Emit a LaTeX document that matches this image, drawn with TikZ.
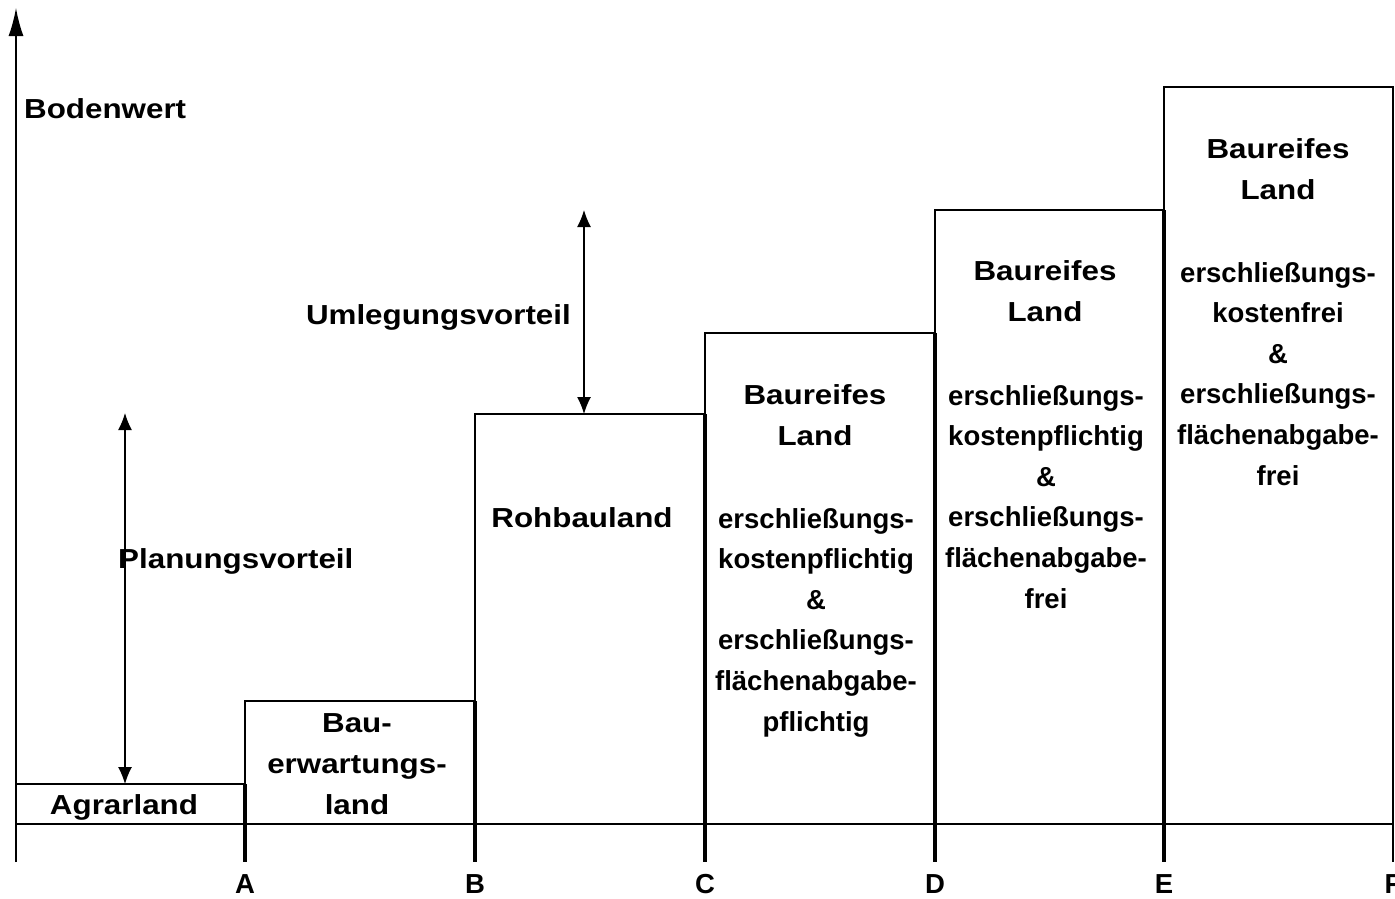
\documentclass[tikz,border=0pt]{standalone}
\usepackage{fontspec}
\setmainfont{Liberation Sans}
\newfontfamily\titelfont[FakeStretch=1.14]{Liberation Sans}
\usepackage{tikz}
\usetikzlibrary{arrows.meta}
\tikzset{	x=1pt, y=-1pt,
	stufe/.style={
		draw,
		line width=2pt},
	grenze/.style={
		line width=4.5pt},
	titel/.style={
		font=\titelfont\bfseries\fontsize{27.5}{41}\selectfont,
		anchor=base,
		inner sep=0pt},
	klein/.style={
		font=\bfseries\fontsize{27.5}{41}\selectfont,
		anchor=base,
		inner sep=0pt},
	pfeil/.style={
		{Latex[length=17pt,width=14pt]}-{Latex[length=17pt,width=14pt]},
		line width=1.3pt}
}

\begin{document}
\begin{tikzpicture}
	\useasboundingbox (0,0) rectangle (1395,898);
	% Achsen
	\coordinate (O) at (16,862);
	\coordinate (Y) at (16,8);
	\draw[line width=1.6pt, -{Latex[length=28pt,width=15pt]}] (O) -- (Y);
	\draw[line width=2pt] (16,824) -- (1393,824);
	\node[titel, anchor=base west] (bw) at (24,118) {Bodenwert};
	% Stufen
	\foreach \xa/\xb/\h [count=\i] in {16/245/784, 245/475/701, 475/705/414, 705/935/333, 935/1164/210, 1164/1393/87}
		\draw[stufe] (\xa,824) rectangle (\xb,\h) coordinate (s\i);
	\foreach \xb/\h/\n in {245/784/A, 475/701/B, 705/414/C, 935/333/D, 1164/210/E}{
		\draw[grenze] (\xb,\h) -- (\xb,862);
		\node[klein] (l\n) at (\xb,893) {\n};
	}
	\draw[line width=2.5pt] (1393,87) -- (1393,862);
	\node[klein] (lF) at (1393,893) {F};
	% Vorteile
	\coordinate (pv1) at (125,413);
	\coordinate (pv2) at (125,784);
	\coordinate (uv1) at (584,210);
	\coordinate (uv2) at (584,414);
	\draw[pfeil] (pv1) -- (pv2);
	\draw[pfeil] (uv1) -- (uv2);
	\node[titel, anchor=base west] (pv) at (118,568) {Planungsvorteil};
	\node[titel, anchor=base east] (uv) at (571,324) {Umlegungsvorteil};
	% Beschriftung
	\node[titel] (agrar) at (124,814) {Agrarland};
	\node[titel] (bau1) at (357,732) {Bau-};
	\node[titel] (bau2) at (357,773) {erwartungs-};
	\node[titel] (bau3) at (357,814) {land};
	\node[titel] (roh) at (582,527) {Rohbauland};
	\foreach \xm/\yt/\k in {815/404/C, 1045/280/D, 1278/158/E}{
		\node[titel] (br\k) at (\xm,\yt) {Baureifes};
		\node[titel] (la\k) at (\xm,\yt+41) {Land};
	}
	\foreach \z [count=\i] in {erschließungs-, kostenpflichtig, \&, erschließungs-, flächenabgabe-, pflichtig}
		\node[klein] (tC\i) at (816,{528+40.6*(\i-1)}) {\z};
	\foreach \z [count=\i] in {erschließungs-, kostenpflichtig, \&, erschließungs-, flächenabgabe-, frei}
		\node[klein] (tD\i) at (1046,{405+40.6*(\i-1)}) {\z};
	\foreach \z [count=\i] in {erschließungs-, kostenfrei, \&, erschließungs-, flächenabgabe-, frei}
		\node[klein] (tE\i) at (1278,{282+40.6*(\i-1)}) {\z};
\end{tikzpicture}
\end{document}
